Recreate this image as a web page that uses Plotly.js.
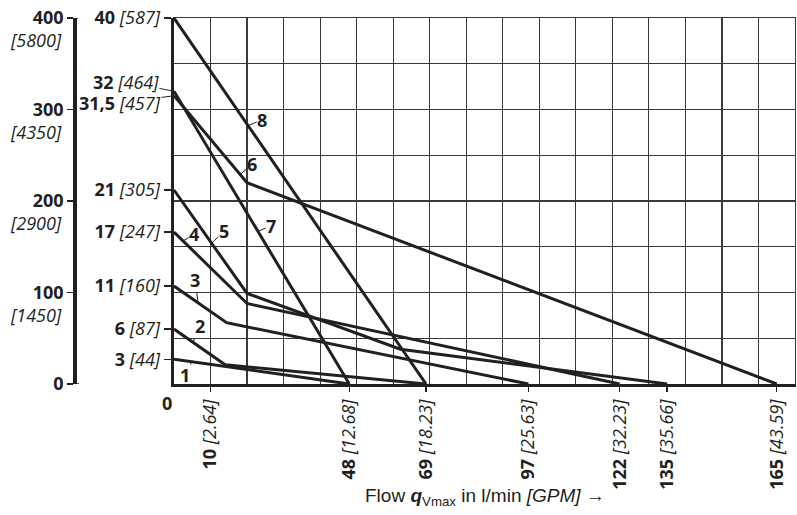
<!DOCTYPE html>
<html><head><meta charset="utf-8">
<script src="https://cdn.plot.ly/plotly-3.0.1.min.js"></script>
<style>html,body{margin:0;padding:0;background:#fff}#chart{width:797px;height:515px}</style>
</head><body><div id="chart"></div>
<script>
// ---- data ----
const flowLpm = [10, 48, 69, 97, 122, 135, 165];
const flowGpm = ['2.64', '12.68', '18.23', '25.63', '32.23', '35.66', '43.59'];

const pTickVals = [27, 60, 107, 166, 212, 400];
const pTickMain = ['3', '6', '11', '17', '21', '40'];
const pTickPsi  = ['44', '87', '160', '247', '305', '587'];

const leftVals = [0, 100, 200, 300, 400];
const leftPsi  = ['', '1450', '2900', '4350', '5800'];

const line1X = [0, 48],            line1Y = [27, 0];
const line2X = [0, 14, 69],        line2Y = [60, 21, 0];
const line3X = [0, 14.4, 97],      line3Y = [107, 67, 0];
const line4X = [0, 20, 122],       line4Y = [166, 88, 0];
const line5X = [0, 20, 62, 135],   line5Y = [212, 99, 38, 0];
const line6X = [0, 20, 165],       line6Y = [315, 220, 0];
const line7X = [0, 48],            line7Y = [320, 0];
const line8X = [0, 69],            line8Y = [400, 0];
const lineNames = ['1', '2', '3', '4', '5', '6', '7', '8'];

// ---- style ----
const INK = '#231f20';
const GRID = '#3a3a3a';
const FONT = 'Open Sans';
const FS = 18;
const lines = [[line1X, line1Y], [line2X, line2Y], [line3X, line3Y], [line4X, line4Y],
               [line5X, line5Y], [line6X, line6Y], [line7X, line7Y], [line8X, line8Y]];

const traces = lines.map((l, i) => ({
  type: 'scatter', mode: 'lines', x: l[0], y: l[1], name: lineNames[i],
  line: {color: INK, width: 3}, xaxis: 'x', yaxis: 'y', hoverinfo: 'skip', showlegend: false
}));
traces.push({type: 'scatter', mode: 'markers', x: [0], y: [0], xaxis: 'x2', yaxis: 'y2',
  marker: {opacity: 0}, hoverinfo: 'skip', showlegend: false});
traces.push({type: 'scatter', mode: 'markers', x: [0], y: [0], xaxis: 'x', yaxis: 'y3',
  marker: {opacity: 0}, hoverinfo: 'skip', showlegend: false});

function yOn(xs, ys, x) {
  for (let i = 0; i < xs.length - 1; i++) {
    if (x >= xs[i] && x <= xs[i + 1]) return ys[i] + (ys[i + 1] - ys[i]) * (x - xs[i]) / (xs[i + 1] - xs[i]);
  }
  return ys[ys.length - 1];
}

// label placement: [x along line, text dx, text dy]
const labelPlace = [[4.9, -7, 13], [5.2, 7, -16], [6.6, -3, -23], [2.5, 11, -7],
                    [10.3, 12, -12], [18.1, 12, -10], [23, 13, -6], [20.3, 14, -6]];

const annotations = [];
lines.forEach((l, i) => {
  const p = labelPlace[i];
  annotations.push({
    x: p[0], y: yOn(l[0], l[1], p[0]), xref: 'x', yref: 'y',
    text: '<b>' + lineNames[i] + '</b>', showarrow: true, arrowhead: 0, arrowwidth: 1,
    arrowcolor: INK, ax: p[1], ay: p[2], standoff: 0, borderpad: 0,
    font: {family: FONT, size: FS, color: INK}
  });
});
// offset start labels for lines 7 and 6
annotations.push({x: 0, y: line7Y[0], xref: 'x', yref: 'y', text: '<b>32</b> <i>[464]</i>',
  showarrow: true, arrowhead: 0, arrowwidth: 1, arrowcolor: INK, ax: -48, ay: -9, standoff: 1, borderpad: 0,
  font: {family: FONT, size: FS, color: INK}});
annotations.push({x: 0, y: line6Y[0], xref: 'x', yref: 'y', text: '<b>31,5</b> <i>[457]</i>',
  showarrow: true, arrowhead: 0, arrowwidth: 1, arrowcolor: INK, ax: -54, ay: 7, standoff: 1, borderpad: 0,
  font: {family: FONT, size: FS, color: INK}});
// psi under the left axis numbers
leftVals.forEach((v, i) => {
  if (!leftPsi[i]) return;
  annotations.push({x: 64 / 795, xref: 'paper', y: v, yref: 'y', xanchor: 'right', yanchor: 'middle',
    yshift: -22, showarrow: false, text: '<i>[' + leftPsi[i] + ']</i>',
    font: {family: FONT, size: FS, color: INK}});
});
// x zero label
annotations.push({x: 0, xref: 'x', y: 0, yref: 'paper', xanchor: 'center', yanchor: 'middle',
  xshift: -7, yshift: -19, showarrow: false,
  text: '<b>0</b>', font: {family: FONT, size: FS, color: INK}});
// axis title
annotations.push({x: (174 / 795 + 1) / 2, xref: 'paper', y: 0, yref: 'paper', xanchor: 'center', yanchor: 'middle',
  yshift: -113, showarrow: false,
  text: 'Flow <b><i>q</i></b><sub>Vmax</sub> in l/min <i>[GPM]</i> →',
  font: {family: 'Liberation Sans', size: 19, color: INK}});

const shapes = [
  {type: 'line', xref: 'paper', yref: 'y', x0: 72 / 795, x1: 78 / 795, y0: 400, y1: 400, line: {color: INK, width: 1.5}},
  {type: 'line', xref: 'paper', yref: 'y', x0: 72 / 795, x1: 79 / 795, y0: 0, y1: 0, line: {color: INK, width: 1.5}}
];

const layout = {
  width: 797, height: 515,
  margin: {l: 0, r: 2, t: 18, b: 131},
  paper_bgcolor: '#fff', plot_bgcolor: '#fff', showlegend: false,
  font: {family: FONT, size: FS, color: INK},
  xaxis: {domain: [174 / 795, 1], range: [0, 170], tickmode: 'linear', tick0: 0, dtick: 10,
    showgrid: true, gridcolor: GRID, gridwidth: 1.2, showticklabels: false, ticks: '',
    zeroline: false, showline: true, linecolor: GRID, linewidth: 1.2, mirror: true, fixedrange: true},
  yaxis: {range: [0, 400], tickmode: 'linear', tick0: 0, dtick: 50,
    showgrid: true, gridcolor: GRID, gridwidth: 1.2, showticklabels: false, ticks: '',
    zeroline: false, showline: true, linecolor: GRID, linewidth: 1.2, mirror: true, fixedrange: true},
  xaxis2: {overlaying: 'x', anchor: 'y', side: 'bottom', range: [0, 170], tickmode: 'array',
    tickvals: flowLpm, ticktext: flowLpm.map((v, i) => '<b>' + v + '</b> <i>[' + flowGpm[i] + ']</i>'),
    tickangle: -90, ticks: 'outside', ticklen: 5, tickwidth: 1.5, tickcolor: INK,
    showline: true, linewidth: 3.3, linecolor: INK, showgrid: false, zeroline: false,
    tickfont: {family: FONT, size: FS, color: INK}, fixedrange: true},
  yaxis2: {overlaying: 'y', anchor: 'x', side: 'left', range: [0, 400], tickmode: 'array',
    tickvals: pTickVals, ticktext: pTickVals.map((v, i) => '<b>' + pTickMain[i] + '</b> <i>[' + pTickPsi[i] + ']</i>'),
    ticks: 'outside', ticklen: 7, tickwidth: 1.5, tickcolor: INK,
    showline: true, linewidth: 3.3, linecolor: INK, showgrid: false, zeroline: false,
    tickfont: {family: FONT, size: FS, color: INK}, fixedrange: true},
  yaxis3: {overlaying: 'y', anchor: 'free', position: 74.2 / 795, side: 'left', range: [0, 400],
    tickmode: 'array', tickvals: leftVals, ticktext: leftVals.map(v => '<b>' + v + '</b>'),
    ticks: 'outside', ticklen: 6, tickwidth: 1.5, tickcolor: INK,
    showline: true, linewidth: 3.3, linecolor: INK, showgrid: false, zeroline: false,
    tickfont: {family: FONT, size: FS, color: INK}, fixedrange: true},
  annotations: annotations,
  shapes: shapes
};

Plotly.newPlot('chart', traces, layout, {staticPlot: true, displayModeBar: false});
</script></body></html>
